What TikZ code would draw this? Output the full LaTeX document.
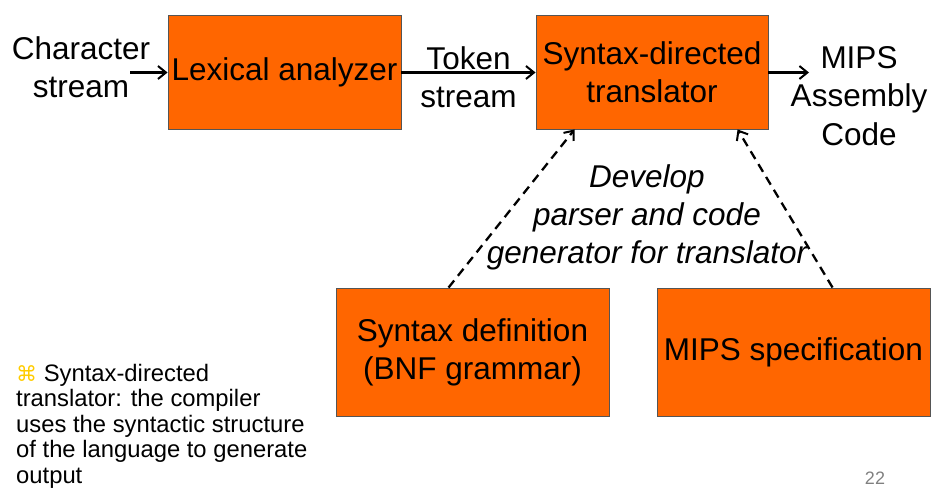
\documentclass[tikz,border=0pt]{standalone}
\usepackage{fontspec}
\setmainfont{Liberation Sans}
\newfontfamily\symfont{DejaVu Sans}
\usetikzlibrary{arrows.meta,calc}
\definecolor{boxorange}{HTML}{FF6600}
\definecolor{boxedge}{HTML}{555555}
\definecolor{bullet}{HTML}{FFCC00}
\tikzset{
  procbox/.style={draw=boxedge, line width=0.9pt, fill=boxorange, inner sep=0pt, align=center,
    font=\fontsize{31.5}{38}\selectfont},
  lbl/.style={inner sep=0pt, align=center, font=\fontsize{31.5}{38.5}\selectfont},
  flow/.style={line width=2.3pt, -{Straight Barb[length=8pt,width=13pt,line width=2pt]}},
  dflow/.style={flow, dash pattern=on 9pt off 6pt}
}
\begin{document}
\begin{tikzpicture}[x=1pt,y=-1pt]
\useasboundingbox (0,0) rectangle (932,489);
\node[procbox, minimum width=233pt, minimum height=114pt] (lex) at (284.5,72) {Lexical analyzer};
\node[procbox, minimum width=232pt, minimum height=114pt] (sdt) at (652,72) {Syntax-directed\\translator};
\node[procbox, minimum width=273pt, minimum height=128pt] (sd) at (472.5,352) {Syntax definition\\(BNF grammar)};
\node[procbox, minimum width=273pt, minimum height=128pt] (ms) at (793.5,352) {MIPS specification};

\node[lbl] (cs) at (81,67) {Character\\stream};
\node[lbl] (ts) at (468.5,77) {Token\\stream};
\node[lbl] (mac) at (859,96) {MIPS\\Assembly\\Code};
\node[lbl, font=\fontsize{31.5}{38}\selectfont\itshape] (dev) at (647,217) {Develop\\parser and code\\generator for translator};

\coordinate (csout) at (130,72.5);
\coordinate (macin) at (809,72.5);
\draw[flow] (csout) -- (csout -| lex.west);
\draw[flow] (lex.east |- csout) -- (sdt.west |- csout);
\draw[flow] (sdt.east |- macin) -- (macin);

\coordinate (sdtop) at ($(sd.north west)+(113,0)$);
\coordinate (mstop) at ($(ms.north west)+(176,0)$);
\coordinate (sdtin1) at ($(sdt.south west)+(39,0)$);
\coordinate (sdtin2) at ($(sdt.south west)+(202,0)$);
\draw[dflow] (sdtop) -- (sdtin1);
\draw[dflow] (mstop) -- (sdtin2);

\node[inner sep=0pt, anchor=north west, align=left, font=\fontsize{23.8}{25.5}\selectfont] (note) at (16,364)
  {{\symfont\color{bullet}\fontsize{21}{25.5}\selectfont ⌘} Syntax-directed\\translator: the compiler\\uses the syntactic structure\\of the language to generate\\output};
\node[inner sep=0pt, anchor=base, text=gray, font=\fontsize{18}{20}\selectfont] (pg) at (875,484) {22};
\end{tikzpicture}
\end{document}
